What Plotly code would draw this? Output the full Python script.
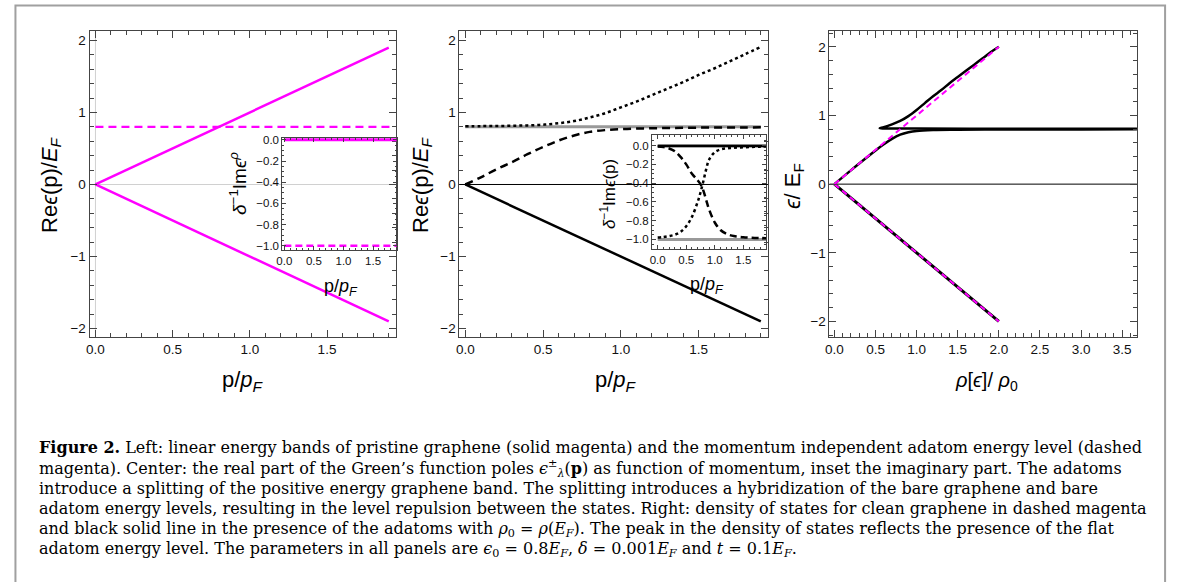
import plotly.graph_objects as go

# The page body margin is removed by a small post script, so reference
# pixel positions map directly onto the figure.
OFF = 0
W, H = 1182, 582

# ---------------- data ----------------
# Left panel: pristine graphene bands and bare adatom level
p_left = [0.0, 1.9]
band_up_left = [0.0, 1.9]
band_dn_left = [0.0, -1.9]
adatom_p = [0.0, 1.92]
adatom_level = [0.8, 0.8]

# Left inset: imaginary parts
inset_p = [0.0, 1.9]
im_graphene = [0.0, 0.0]
im_adatom = [-1.0, -1.0]

# Middle panel: real part of the poles
p_mid = [0.0, 0.1, 0.2, 0.3, 0.4, 0.5, 0.6, 0.7, 0.8, 0.9,
         1.0, 1.1, 1.2, 1.3, 1.4, 1.5, 1.6, 1.7, 1.8, 1.9]
re_upper = [0.81, 0.81, 0.812, 0.815, 0.82, 0.83, 0.85, 0.88, 0.93, 0.99,
            1.07, 1.15, 1.24, 1.33, 1.42, 1.52, 1.61, 1.71, 1.81, 1.91]
re_lower = [0.0, 0.1, 0.21, 0.31, 0.42, 0.52, 0.61, 0.68, 0.73, 0.755,
            0.768, 0.776, 0.781, 0.784, 0.787, 0.789, 0.79, 0.791, 0.792, 0.793]
p_neg = [0.0, 1.9]
re_neg = [0.0, -1.9]
p_bare = [0.0, 1.9]
bare_level = [0.8, 0.8]

# Middle inset: imaginary parts
p_in = [0.0, 0.1, 0.2, 0.3, 0.4, 0.5, 0.6, 0.7, 0.75, 0.8, 0.85, 0.9,
        1.0, 1.1, 1.2, 1.3, 1.4, 1.5, 1.6, 1.7, 1.8, 1.9]
im_upper = [-0.98, -0.975, -0.965, -0.95, -0.92, -0.86, -0.76, -0.6, -0.5, -0.38,
            -0.25, -0.15, -0.07, -0.04, -0.03, -0.025, -0.02, -0.018, -0.015, -0.012, -0.011, -0.01]
im_lower = [-0.01, -0.015, -0.03, -0.06, -0.12, -0.2, -0.3, -0.37, -0.41, -0.48,
            -0.58, -0.68, -0.82, -0.9, -0.94, -0.96, -0.97, -0.977, -0.981, -0.984, -0.986, -0.988]
im_neg_p = [0.0, 1.9]
im_neg = [-0.005, -0.005]
ref_p = [0.0, 1.9]
ref_zero = [0.0, 0.0]
ref_one = [-1.0, -1.0]

# Right panel: density of states
rho_clean = [0.0, 2.0]
eps_clean_pos = [0.0, 2.0]
eps_clean_neg = [0.0, -2.0]
rho_low = [0.0, 0.2, 0.4, 0.5, 0.6, 0.7, 0.8, 0.9, 1.0, 1.2, 1.5, 2.0, 2.5, 3.0, 3.7]
eps_low = [0.0, 0.2, 0.395, 0.49, 0.58, 0.66, 0.72, 0.755, 0.775, 0.788, 0.792, 0.795, 0.796, 0.797, 0.798]
rho_up = [3.7, 3.0, 2.0, 1.0, 0.7, 0.6, 0.55, 0.6, 0.7, 0.8, 0.9, 1.0, 1.1, 1.2, 1.3,
          1.4, 1.5, 1.6, 1.7, 1.8, 1.9, 2.0]
eps_up = [0.806, 0.806, 0.807, 0.809, 0.81, 0.811, 0.815, 0.83, 0.87, 0.92, 0.99, 1.08,
          1.18, 1.28, 1.37, 1.47, 1.56, 1.65, 1.74, 1.83, 1.92, 2.0]

# caption lines
caption = [
    "<b>Figure 2.</b> Left: linear energy bands of pristine graphene (solid magenta) and the momentum independent adatom energy level (dashed",
    "magenta). Center: the real part of the Green’s function poles <i>ϵ</i><sup>±</sup><sub><i>λ</i></sub>(<b>p</b>) as function of momentum, inset the imaginary part. The adatoms",
    "introduce a splitting of the positive energy graphene band. The splitting introduces a hybridization of the bare graphene and bare",
    "adatom energy levels, resulting in the level repulsion between the states. Right: density of states for clean graphene in dashed magenta",
    "and black solid line in the presence of the adatoms with <i>ρ</i><sub>0</sub> = <i>ρ</i>(<i>E<sub>F</sub></i>). The peak in the density of states reflects the presence of the flat",
    "adatom energy level. The parameters in all panels are <i>ϵ</i><sub>0</sub> = 0.8<i>E<sub>F</sub></i>, <i>δ</i> = 0.001<i>E<sub>F</sub></i> and <i>t</i> = 0.1<i>E<sub>F</sub></i>.",
]

# ---------------- styling ----------------
MAG = "#ff00ff"
FRAME = "#444444"
SANS = "Liberation Sans"
SERIF = "DejaVu Serif"


def dom(x0, x1, y0, y1):
    return ([(x0 - OFF) / W, (x1 - OFF) / W],
            [1 - (y1 - OFF) / H, 1 - (y0 - OFF) / H])


def axis(domain, rng, dtick, mdtick, fmt, fsize, tlen, mlen, anchor):
    return dict(domain=domain, range=rng, tickmode="linear", tick0=0, dtick=dtick,
                tickformat=fmt, ticks="inside", ticklen=tlen, tickwidth=1,
                tickcolor=FRAME, showline=True, linecolor=FRAME, linewidth=1,
                mirror="allticks", showgrid=False, zeroline=False,
                minor=dict(ticks="inside", dtick=mdtick, tick0=0, ticklen=mlen,
                           tickcolor=FRAME, tickwidth=1, showgrid=False),
                tickfont=dict(family=SANS, size=fsize, color="#111"),
                anchor=anchor, fixedrange=True)


fig = go.Figure()


def add(x, y, ax, color, width, dash="solid", shape="linear"):
    fig.add_trace(go.Scatter(x=x, y=y, xaxis="x" + ax, yaxis="y" + ax, mode="lines",
                             line=dict(color=color, width=width, dash=dash, shape=shape),
                             showlegend=False, hoverinfo="skip"))


# left panel
add(adatom_p, adatom_level, "", MAG, 2.2, "8px,5px")
add(p_left, band_up_left, "", MAG, 2.5)
add(p_left, band_dn_left, "", MAG, 2.5)
# left inset
add(inset_p, im_adatom, "4", MAG, 2.5, "7px,4px")
add(inset_p, im_graphene, "4", MAG, 3)

# middle panel
add(p_bare, bare_level, "2", "#999999", 3)
add(p_neg, re_neg, "2", "black", 2.5)
add(p_mid, re_lower, "2", "black", 2.5, "8px,5px", "spline")
add(p_mid, re_upper, "2", "black", 2.5, "3px,3px", "spline")
# middle inset
add(ref_p, ref_zero, "5", "#999999", 3)
add(ref_p, ref_one, "5", "#999999", 3)
add(im_neg_p, im_neg, "5", "black", 2.5)
add(p_in, im_lower, "5", "black", 2.5, "7px,4px", "spline")
add(p_in, im_upper, "5", "black", 2.5, "3px,3px", "spline")

# right panel
add(rho_clean, eps_clean_neg, "3", "black", 3)
add(rho_low, eps_low, "3", "black", 2.5, "solid", "spline")
add(rho_up, eps_up, "3", "black", 2.5, "solid", "spline")
add(rho_clean, eps_clean_pos, "3", MAG, 2, "6px,4px")
add(rho_clean, eps_clean_neg, "3", MAG, 2, "6px,4px")

# domains (reference pixel boxes)
xl, yl = dom(84, 391.7, 27.3, 336.7)
xm, ym = dom(455.7, 765.7, 27.3, 336.7)
xr, yr = dom(827.7, 1136.7, 27.3, 336.7)
xi1, yi1 = dom(277.7, 392.7, 135, 248.3)
xi2, yi2 = dom(649.3, 764, 132.7, 247.3)

fig.update_layout(
    width=W, height=H, margin=dict(l=0, r=0, t=0, b=0),
    paper_bgcolor="white", plot_bgcolor="rgba(0,0,0,0)",
    xaxis=axis(xl, [-0.038, 1.945], 0.5, 0.1, ".1f", 13.5, 7, 4, "y"),
    yaxis=axis(yl, [-2.12, 2.13], 1, 0.2, "d", 13.5, 7, 4, "x"),
    xaxis2=axis(xm, [-0.038, 1.945], 0.5, 0.1, ".1f", 13.5, 7, 4, "y2"),
    yaxis2=axis(ym, [-2.12, 2.13], 1, 0.2, "d", 13.5, 7, 4, "x2"),
    xaxis3=axis(xr, [-0.06, 3.68], 0.5, 0.1, ".1f", 13.5, 7, 4, "y3"),
    yaxis3=axis(yr, [-2.23, 2.23], 1, 0.2, "d", 13.5, 7, 4, "x3"),
    xaxis4=axis(xi1, [-0.035, 1.9], 0.5, 0.1, ".1f", 11.5, 4, 2, "y4"),
    yaxis4=axis(yi1, [-1.037, 0.021], 0.2, 0.05, ".1f", 11.5, 4, 2, "x4"),
    xaxis5=axis(xi2, [-0.1, 1.9], 0.5, 0.1, ".1f", 11.5, 4, 2, "y5"),
    yaxis5=axis(yi2, [-1.1, 0.11], 0.2, 0.05, ".1f", 11.5, 4, 2, "x5"),
)


def px(x, y):
    return (x - OFF) / W, 1 - (y - OFF) / H


fx0, fy1 = px(9.5, 1.5)
fx1, _ = px(1165, 0)
shapes = [
    # outer figure frame
    dict(type="rect", xref="paper", yref="paper", x0=fx0, x1=fx1,
         y0=-0.05, y1=fy1, line=dict(color="#a0a0a0", width=2), layer="below"),
    # left panel axes through origin
    dict(type="line", xref="x domain", yref="y", x0=0, x1=1, y0=0, y1=0,
         line=dict(color="#d0d0d0", width=1), layer="below"),
    dict(type="line", xref="x", yref="y domain", x0=0, x1=0, y0=0, y1=1,
         line=dict(color="#d0d0d0", width=1), layer="below"),
    # middle and right zero lines
    dict(type="line", xref="x2 domain", yref="y2", x0=0, x1=1, y0=0, y1=0,
         line=dict(color="black", width=1), layer="above"),
    dict(type="line", xref="x3 domain", yref="y3", x0=0, x1=1, y0=0, y1=0,
         line=dict(color="black", width=1), layer="below"),
]
fig.update_layout(shapes=shapes)

anns = []


def label(text, x, y, size, angle=0, family=SANS, anchor="center"):
    ax_, ay_ = px(x, y)
    anns.append(dict(text=text, x=ax_, y=ay_, xref="paper", yref="paper",
                     showarrow=False, textangle=angle, xanchor=anchor, yanchor="middle",
                     font=dict(family=family, size=size, color="black")))


# axis titles
label("Re<i>ϵ</i>(p)/<i>E<sub>F</sub></i>", 45, 182, 22, -90)
label("Re<i>ϵ</i>(p)/<i>E<sub>F</sub></i>", 418, 182, 22, -90)
label("<i>ϵ</i>/ E<sub>F</sub>", 792, 184, 22, -90)
label("p/<i>p<sub>F</sub></i>", 238, 381, 22)
label("p/<i>p<sub>F</sub></i>", 613, 381, 22)
label("<i>ρ</i>[<i>ϵ</i>]/ <i>ρ</i><sub>0</sub>", 985, 381, 20)
# inset titles
label("<i>δ</i><sup>−1</sup>Im<i>ϵ<sup>ρ</sup></i>", 233, 181, 19, -90)
label("p/<i>p<sub>F</sub></i>", 337, 286, 18)
label("<i>δ</i><sup>−1</sup>Im<i>ϵ</i>(p)", 605, 192, 17, -90)
label("p/<i>p<sub>F</sub></i>", 705, 284, 18)

ys = [448.5, 469, 489.5, 510, 530.5, 551]
for t, yy in zip(caption, ys):
    label(t, 31, yy, 16.0, 0, SERIF, "left")

fig.update_layout(annotations=anns)
fig.write_html("out.html",
               config={"displayModeBar": False, "staticPlot": True},
               post_script="document.body.style.margin='0';"
                           "document.documentElement.style.overflow='hidden';")
